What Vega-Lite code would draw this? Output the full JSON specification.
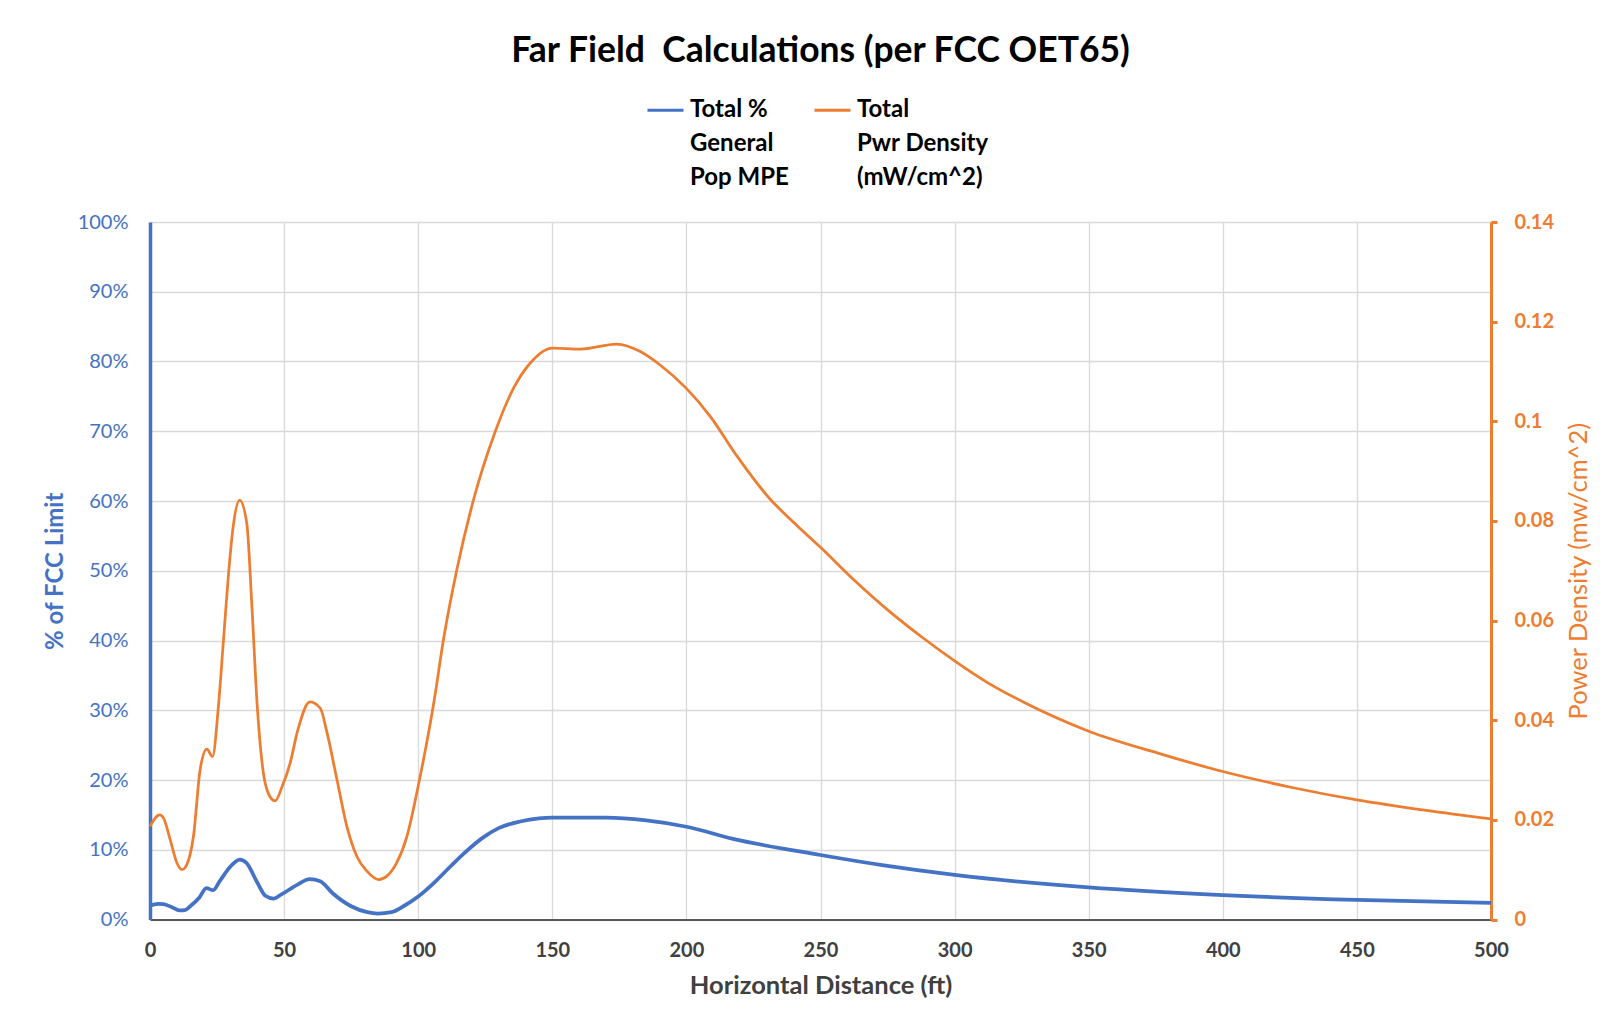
{
  "$schema": "https://vega.github.io/schema/vega-lite/v6.json",
  "width": 1341,
  "height": 697.5,
  "autosize": {"type": "none"},
  "padding": {"left": 150, "top": 222, "right": 129, "bottom": 104.5},
  "background": "white",
  "config": {"view": {"stroke": null}, "font": "Lato"},
  "title": {
    "text": "Far Field\u00a0 Calculations (per FCC OET65)",
    "fontSize": 35.5,
    "fontWeight": "bold",
    "font": "Lato",
    "color": "#000000",
    "anchor": "middle",
    "offset": 21
  },
  "datasets": {
    "mpe": [
      {"d": 0, "v": 0.020}, {"d": 3, "v": 0.0225}, {"d": 5, "v": 0.022}, {"d": 8, "v": 0.018},
      {"d": 11, "v": 0.013}, {"d": 13, "v": 0.0135}, {"d": 15, "v": 0.019}, {"d": 18.5, "v": 0.032},
      {"d": 21, "v": 0.045}, {"d": 23.5, "v": 0.042}, {"d": 26, "v": 0.055}, {"d": 30, "v": 0.076},
      {"d": 33.5, "v": 0.086}, {"d": 36, "v": 0.081}, {"d": 40, "v": 0.053}, {"d": 43, "v": 0.034},
      {"d": 46, "v": 0.030}, {"d": 49, "v": 0.036}, {"d": 55, "v": 0.050}, {"d": 59.5, "v": 0.058},
      {"d": 63.5, "v": 0.055}, {"d": 68, "v": 0.038}, {"d": 75, "v": 0.019}, {"d": 81, "v": 0.0105},
      {"d": 85, "v": 0.0086}, {"d": 90, "v": 0.0105}, {"d": 94.5, "v": 0.019}, {"d": 100, "v": 0.033},
      {"d": 106, "v": 0.053}, {"d": 112, "v": 0.076}, {"d": 118, "v": 0.098}, {"d": 124, "v": 0.117},
      {"d": 130, "v": 0.131}, {"d": 138, "v": 0.1405}, {"d": 145, "v": 0.145}, {"d": 150, "v": 0.146},
      {"d": 170, "v": 0.146}, {"d": 185, "v": 0.142}, {"d": 200, "v": 0.133}, {"d": 217, "v": 0.116},
      {"d": 250, "v": 0.0925}, {"d": 273, "v": 0.078}, {"d": 300, "v": 0.064}, {"d": 350, "v": 0.046},
      {"d": 400, "v": 0.035}, {"d": 450, "v": 0.028}, {"d": 500, "v": 0.024}
    ],
    "pd": [
      {"d": 0, "v": 0.0187}, {"d": 3.6, "v": 0.0210}, {"d": 5, "v": 0.0204}, {"d": 7.5, "v": 0.0161},
      {"d": 10, "v": 0.0114}, {"d": 12, "v": 0.0100}, {"d": 14.4, "v": 0.0120}, {"d": 16.2, "v": 0.0167},
      {"d": 18.7, "v": 0.0301}, {"d": 21.2, "v": 0.0342}, {"d": 23.3, "v": 0.0327}, {"d": 25.5, "v": 0.0427},
      {"d": 27.4, "v": 0.0561}, {"d": 29.3, "v": 0.0695}, {"d": 31, "v": 0.0788}, {"d": 33.4, "v": 0.0842},
      {"d": 36.1, "v": 0.0795}, {"d": 38, "v": 0.0628}, {"d": 40, "v": 0.0427}, {"d": 42.3, "v": 0.0293},
      {"d": 44.8, "v": 0.0246}, {"d": 46.7, "v": 0.0238}, {"d": 49.2, "v": 0.0266}, {"d": 52.3, "v": 0.0315},
      {"d": 55, "v": 0.0378}, {"d": 59.6, "v": 0.0437}, {"d": 63.5, "v": 0.0424}, {"d": 66, "v": 0.0375},
      {"d": 69.7, "v": 0.0281}, {"d": 73.4, "v": 0.0187}, {"d": 77.1, "v": 0.0127}, {"d": 80.9, "v": 0.0097},
      {"d": 85.2, "v": 0.0080}, {"d": 88.3, "v": 0.0087}, {"d": 92, "v": 0.0114}, {"d": 95.8, "v": 0.0167},
      {"d": 100, "v": 0.0268}, {"d": 106, "v": 0.0441}, {"d": 109.4, "v": 0.0561}, {"d": 114.4, "v": 0.0702},
      {"d": 120.6, "v": 0.0842}, {"d": 128.7, "v": 0.0979}, {"d": 135.5, "v": 0.1066}, {"d": 141.8, "v": 0.1117},
      {"d": 150, "v": 0.1147}, {"d": 160.4, "v": 0.1145}, {"d": 174, "v": 0.1155}, {"d": 182.8, "v": 0.1140},
      {"d": 190.2, "v": 0.1113}, {"d": 200, "v": 0.1066}, {"d": 209, "v": 0.1009}, {"d": 219, "v": 0.0929},
      {"d": 231, "v": 0.0845}, {"d": 240, "v": 0.0797}, {"d": 250, "v": 0.0747}, {"d": 262.4, "v": 0.0682},
      {"d": 275.8, "v": 0.0618}, {"d": 289, "v": 0.0562}, {"d": 300, "v": 0.0519}, {"d": 312.4, "v": 0.0475},
      {"d": 325.8, "v": 0.0436}, {"d": 350, "v": 0.0378}, {"d": 375.8, "v": 0.0334}, {"d": 400, "v": 0.0297},
      {"d": 425.8, "v": 0.0265}, {"d": 450, "v": 0.0240}, {"d": 475.8, "v": 0.0219}, {"d": 500, "v": 0.0202}
    ]
  },
  "layer": [
    {
      "data": {"name": "mpe"},
      "mark": {"type": "line", "interpolate": "monotone", "strokeWidth": 3.75},
      "encoding": {
        "x": {
          "field": "d", "type": "quantitative",
          "scale": {"domain": [0, 500], "nice": false},
          "axis": {
            "values": [0, 50, 100, 150, 200, 250, 300, 350, 400, 450, 500],
            "grid": true, "gridColor": "#D9D9D9", "gridWidth": 1.3,
            "domainColor": "#595959", "domainWidth": 2,
            "ticks": false, "labelFlush": false,
            "labelPadding": 21, "labelFontSize": 20, "labelFont": "Lato", "labelFontWeight": "bold", "labelColor": "#404040",
            "title": "Horizontal Distance (ft)", "titleFontSize": 25.5, "titleFont": "Lato", "titleFontWeight": "bold", "titleColor": "#404040",
            "titlePadding": 13
          }
        },
        "y": {
          "field": "v", "type": "quantitative",
          "scale": {"domain": [0, 1], "nice": false},
          "axis": {
            "values": [0, 0.1, 0.2, 0.3, 0.4, 0.5, 0.6, 0.7, 0.8, 0.9, 1],
            "format": ".0%",
            "grid": true, "gridColor": "#D9D9D9", "gridWidth": 1.3,
            "domainColor": "#4472C4", "domainWidth": 3.5,
            "ticks": false,
            "labelPadding": 22, "labelFontSize": 20, "labelFont": "Lato", "labelColor": "#4472C4",
            "title": "% of FCC Limit", "titleFontSize": 24, "titleFont": "Lato", "titleFontWeight": "bold", "titleColor": "#4472C4",
            "titleAngle": 270, "titleAlign": "center", "titleBaseline": "middle", "titleX": -95, "titleY": 348.75
          }
        },
        "color": {
          "datum": "Total % General Pop MPE", "type": "nominal",
          "scale": {"domain": ["Total % General Pop MPE", "Total Pwr Density (mW/cm^2)"], "range": ["#4472C4", "#ED7D31"]},
          "legend": {
            "orient": "none", "legendX": 496, "legendY": -131.5, "direction": "horizontal",
            "title": null, "padding": 0,
            "symbolType": "stroke", "symbolSize": 1296, "symbolStrokeWidth": 3,
            "labelFontSize": 24, "labelFont": "Lato", "labelFontWeight": "bold", "labelColor": "#000000",
            "labelOffset": 5, "labelBaseline": "middle", "labelLimit": 400,
            "columnPadding": 19,
            "labelExpr": "datum.label == 'Total % General Pop MPE' ? ['Total %', 'General', 'Pop MPE'] : ['Total', 'Pwr Density', '(mW/cm^2)']",
            "encode": {"labels": {"update": {"lineHeight": {"value": 34}}}}
          }
        }
      }
    },
    {
      "data": {"name": "pd"},
      "mark": {"type": "line", "interpolate": "monotone", "strokeWidth": 2.75},
      "encoding": {
        "x": {"field": "d", "type": "quantitative"},
        "y": {
          "field": "v", "type": "quantitative",
          "scale": {"domain": [0, 0.14], "nice": false},
          "axis": {
            "orient": "right",
            "values": [0, 0.02, 0.04, 0.06, 0.08, 0.1, 0.12, 0.14],
            "format": "~g",
            "grid": false,
            "domainColor": "#ED7D31", "domainWidth": 3,
            "ticks": true, "tickColor": "#ED7D31", "tickSize": 6, "tickWidth": 3,
            "labelPadding": 17, "labelFontSize": 20, "labelFont": "Lato", "labelFontWeight": "bold", "labelColor": "#ED7D31",
            "title": "Power Density (mw/cm^2)", "titleFontSize": 25.5, "titleFont": "Lato", "titleFontWeight": "normal", "titleColor": "#ED7D31",
            "titleAngle": 270, "titleAlign": "center", "titleBaseline": "middle", "titleX": 87, "titleY": 348.75
          }
        },
        "color": {"datum": "Total Pwr Density (mW/cm^2)", "type": "nominal"}
      }
    }
  ],
  "resolve": {"scale": {"y": "independent"}}
}
